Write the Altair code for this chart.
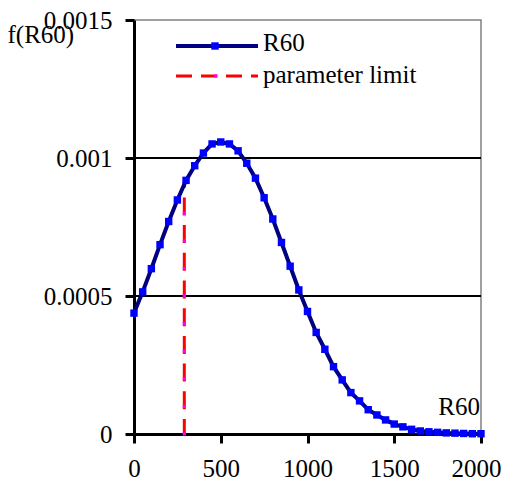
import altair as alt
import pandas as pd

FONT = "Liberation Serif"

r60_x = [0, 50, 100, 150, 200, 250, 300, 350, 400, 450, 500, 550, 600, 650, 700,
         750, 800, 850, 900, 950, 1000, 1050, 1100, 1150, 1200, 1250, 1300, 1350,
         1400, 1450, 1500, 1550, 1600, 1650, 1700, 1750, 1800, 1850, 1900, 1950, 2000]
r60_y = [0.000438, 0.000515, 0.000599, 0.000686, 0.000770, 0.000848, 0.000919,
         0.000972, 0.001018, 0.001051, 0.001058, 0.001051, 0.001026, 0.000981,
         0.000927, 0.000856, 0.000779, 0.000694, 0.000608, 0.000522, 0.000444,
         0.000368, 0.000307, 0.000244, 0.000196, 0.000150, 0.000120, 0.000088,
         0.000069, 0.000051, 0.000036, 0.000026, 0.000017, 0.000011, 0.000008,
         0.000006, 0.000004, 0.000003, 0.000002, 0.000001, 0.000001]

limit_x = [290, 290, 290, 290, 290, 290, 290, 290, 290, 290, 290]
limit_y = [0, 0.0001, 0.0002, 0.0003, 0.0004, 0.0005, 0.0006, 0.0007, 0.0008, 0.0009, 0.00091]

grid_values = [0.0005, 0.001]
x_ticks = [0, 500, 1000, 1500, 2000]
y_ticks = [0, 0.0005, 0.001, 0.0015]

legend_labels = ["R60", "parameter limit"]
axis_label_x = "R60"
axis_label_y = "f(R60)"

r60 = pd.DataFrame({"x": r60_x, "y": r60_y})
lim = pd.DataFrame({"x": limit_x, "y": limit_y})
grid = pd.DataFrame({"y": grid_values})

xscale = alt.Scale(domain=[0, 2000], nice=False)
yscale = alt.Scale(domain=[0, 0.0015], nice=False)

xaxis = alt.Axis(values=x_ticks, format="d", title=None, grid=False,
                 domainColor="black", domainWidth=3, tickColor="black",
                 tickWidth=3, tickSize=9, labelFont=FONT, labelFontSize=25,
                 labelColor="black", labelPadding=13, labelFlush=False,
                 labelOverlap=False,
                 labelOffset={"condition": {"test": "datum.value == 2000", "value": -5},
                              "value": 0})
yaxis = alt.Axis(values=y_ticks, format="~g", grid=False,
                 domainColor="black", domainWidth=3, tickColor="black",
                 tickWidth=3, tickSize=9, labelFont=FONT, labelFontSize=25,
                 labelColor="black", labelPadding=13, labelFlush=False,
                 labelOverlap=False,
                 title=axis_label_y, titleFont=FONT, titleFontSize=25,
                 titleFontWeight="normal", titleColor="black", titleAngle=0,
                 titleAlign="left", titleBaseline="alphabetic",
                 titleX=-127, titleY=22)

grid_layer = alt.Chart(grid).mark_rule(color="black", strokeWidth=2).encode(
    y=alt.Y("y:Q", scale=yscale, axis=yaxis)
)

base_x = alt.X("x:Q", scale=xscale, axis=xaxis)

limit_line = alt.Chart(lim).mark_line(color="#FF0000", strokeWidth=3,
                                      strokeDash=[18, 9.7],
                                      strokeDashOffset=3).encode(
    x=base_x, y=alt.Y("y:Q", scale=yscale)
)
limit_pts = alt.Chart(lim).mark_square(color="#FF00FF", size=10, opacity=1).encode(
    x=base_x, y=alt.Y("y:Q", scale=yscale)
)

r60_line = alt.Chart(r60).mark_line(color="#000080", strokeWidth=4).encode(
    x=base_x, y=alt.Y("y:Q", scale=yscale)
)
r60_pts = alt.Chart(r60).mark_square(color="#0000FF", size=55, opacity=1).encode(
    x=base_x, y=alt.Y("y:Q", scale=yscale)
)

corner = pd.DataFrame({"x": [2000], "y": [0.00007], "t": [axis_label_x]})
corner_text = alt.Chart(corner).mark_text(font=FONT, fontSize=25, align="right",
                                          baseline="alphabetic", color="black",
                                          dx=-1).encode(
    x=alt.X("x:Q", scale=xscale), y=alt.Y("y:Q", scale=yscale), text="t:N"
)

# legend (drawn manually)
leg1_line = alt.Chart(r60.head(1)).mark_rule(color="#000080", strokeWidth=4).encode(
    x=alt.value(42), x2=alt.value(124), y=alt.value(26)
)
leg1_pt = alt.Chart(r60.head(1)).mark_square(color="#0000FF", size=55, opacity=1).encode(
    x=alt.value(81), y=alt.value(26)
)
leg2_line = alt.Chart(r60.head(1)).mark_rule(color="#FF0000", strokeWidth=3,
                                             strokeDash=[16, 9]).encode(
    x=alt.value(42), x2=alt.value(124), y=alt.value(56)
)
leg2_pt = alt.Chart(r60.head(1)).mark_square(color="#FF00FF", size=10, opacity=1).encode(
    x=alt.value(82), y=alt.value(56)
)
leg_text = pd.DataFrame({"t": legend_labels, "py": [23, 55]})
leg_txt = alt.Chart(leg_text).mark_text(font=FONT, fontSize=25, align="left",
                                        baseline="middle", color="black").encode(
    x=alt.value(129), y=alt.Y("py:Q", scale=None), text="t:N"
)

chart = alt.layer(
    grid_layer, limit_line, limit_pts, r60_line, r60_pts, corner_text,
    leg1_line, leg1_pt, leg2_line, leg2_pt, leg_txt
).properties(
    width=347, height=414,
    autosize=alt.AutoSizeParams(type="none"),
    padding={"left": 126, "top": 12, "right": 21, "bottom": 46},
    background="white"
).configure_view(
    stroke="#808080", strokeWidth=1.5
)

chart.save("out.html", embed_options={"renderer": "svg", "actions": False})
